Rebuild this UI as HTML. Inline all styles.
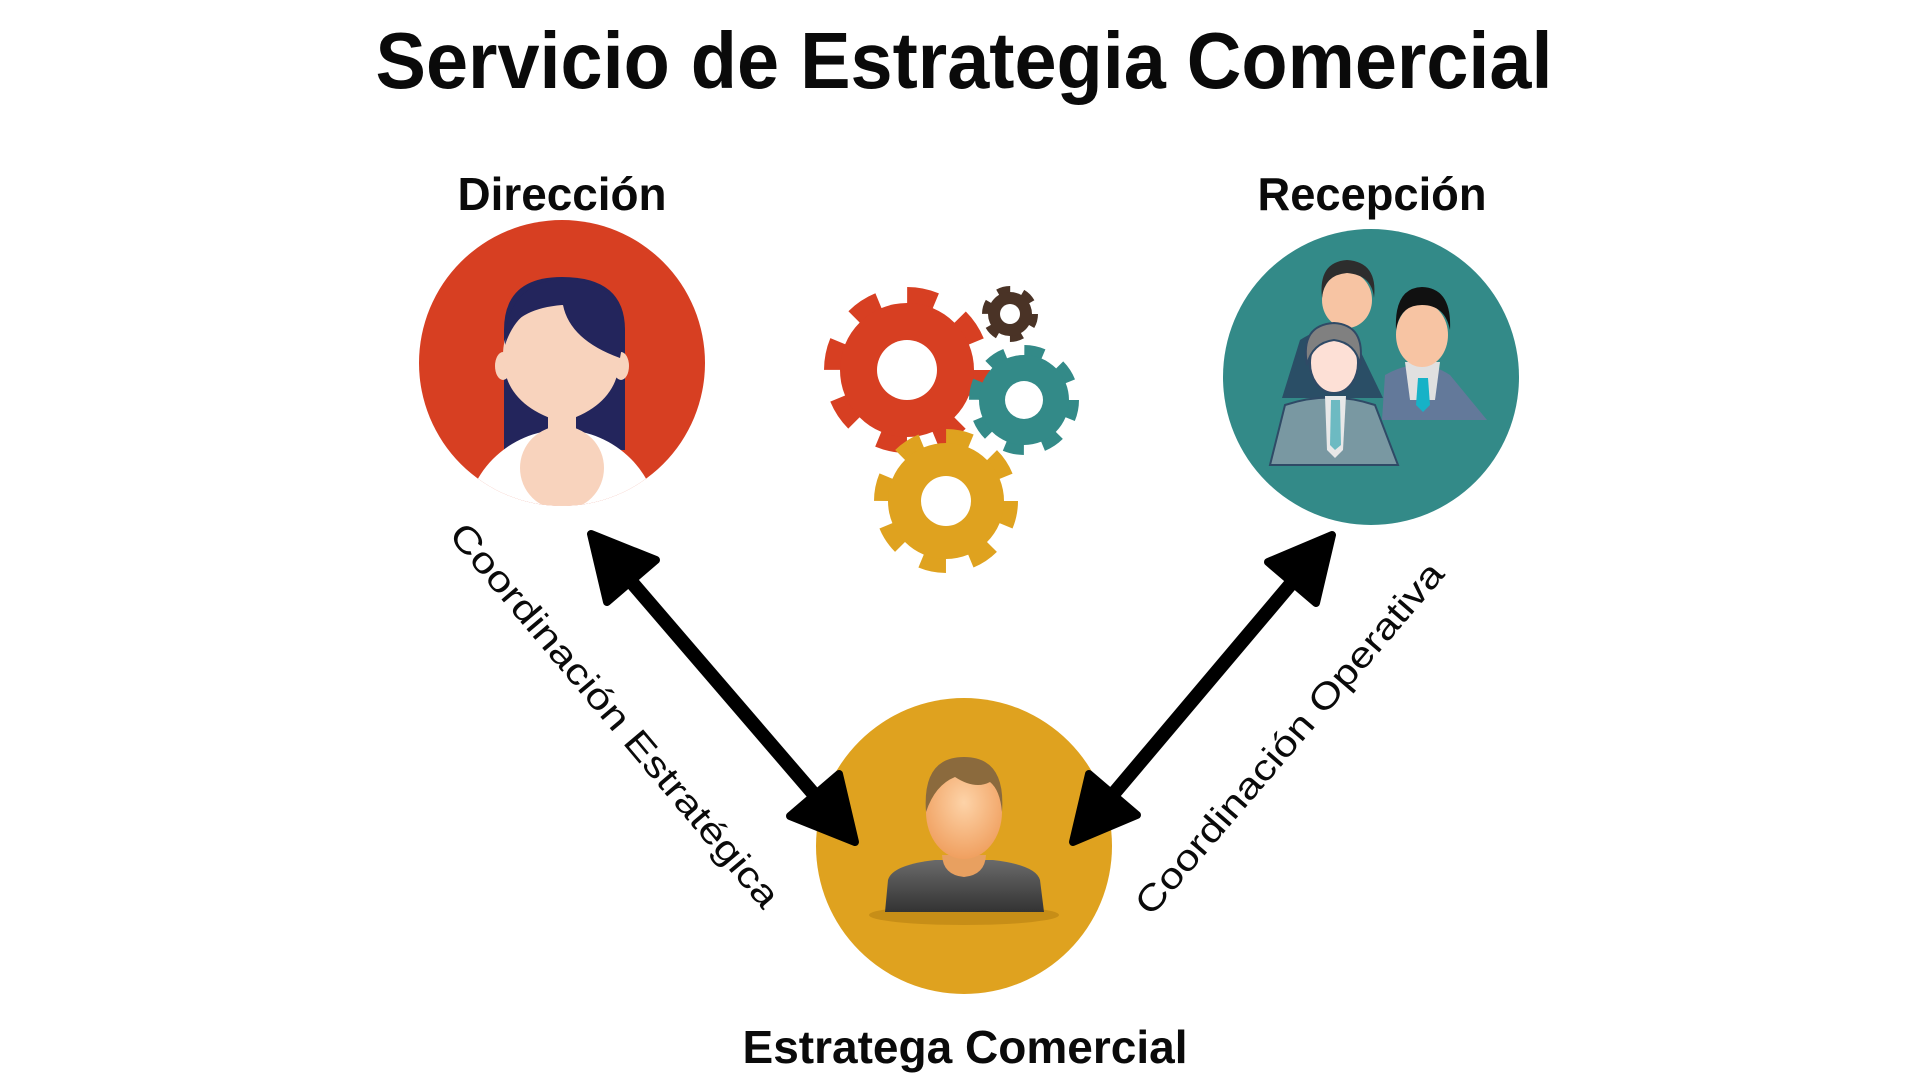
<!DOCTYPE html>
<html><head><meta charset="utf-8"><style>
html,body{margin:0;padding:0;background:#fff;}
svg{display:block;}
</style></head><body>
<svg width="1920" height="1080" viewBox="0 0 1920 1080" xmlns="http://www.w3.org/2000/svg">
<rect width="1920" height="1080" fill="#fff"/>
<g font-family="Liberation Sans, sans-serif" font-weight="bold" fill="#0a0a0a">
<text x="964" y="88" font-size="80" text-anchor="middle" textLength="1177" lengthAdjust="spacingAndGlyphs">Servicio de Estrategia Comercial</text>
<text x="562" y="210" font-size="46" text-anchor="middle" textLength="209" lengthAdjust="spacingAndGlyphs">Dirección</text>
<text x="1372" y="210" font-size="46" text-anchor="middle" textLength="229" lengthAdjust="spacingAndGlyphs">Recepción</text>
<text x="965" y="1063" font-size="46" text-anchor="middle" textLength="445" lengthAdjust="spacingAndGlyphs">Estratega Comercial</text>
</g>

<!-- Direccion -->
<defs>
<clipPath id="cr"><circle cx="562" cy="363" r="143"/></clipPath>
<clipPath id="cg"><circle cx="964" cy="846" r="148"/></clipPath>
<radialGradient id="face" cx="0.5" cy="0.4" r="0.6"><stop offset="0" stop-color="#fdd3a8"/><stop offset="1" stop-color="#f0a060"/></radialGradient>
<linearGradient id="shirt" x1="0" y1="0" x2="0" y2="1"><stop offset="0" stop-color="#6a6a6a"/><stop offset="1" stop-color="#333"/></linearGradient>
</defs>
<circle cx="562" cy="363" r="143" fill="#d73f22"/>
<g clip-path="url(#cr)">
<path d="M504 330 Q504 277 562 277 Q625 277 625 330 L625 450 L504 450 Z" fill="#23255c"/>
<ellipse cx="562" cy="530" rx="98" ry="100" fill="#fff"/>
<ellipse cx="562" cy="468" rx="42" ry="42" fill="#f8d3bd"/>
<rect x="548" y="405" width="28" height="30" fill="#f8d3bd"/>
<ellipse cx="503" cy="366" rx="8" ry="14" fill="#f8d3bd"/>
<ellipse cx="621" cy="366" rx="8" ry="14" fill="#f8d3bd"/>
<path d="M503 355 Q503 310 562 305 Q620 310 620 355 Q620 405 562 422 Q503 405 503 355 Z" fill="#f8d3bd"/>
<path d="M505 345 Q520 300 563 305 Q570 340 620 358 L625 330 Q620 280 562 278 Q505 285 505 345 Z" fill="#23255c"/>
</g>

<!-- Recepcion -->
<circle cx="1371" cy="377" r="148" fill="#338a88"/>
<path d="M1282 398 L1300 340 Q1330 320 1355 340 L1383 398 Z" fill="#2a4e66"/>
<ellipse cx="1347" cy="300" rx="25" ry="28" fill="#f7c4a3"/>
<path d="M1322 298 Q1318 262 1347 260 Q1378 262 1374 298 Q1372 275 1347 273 Q1324 275 1322 298Z" fill="#2d2d2d"/>
<path d="M1382 420 L1385 375 Q1420 355 1450 375 L1487 420 Z" fill="#63799a"/>
<path d="M1405 362 L1440 362 L1435 400 L1410 400Z" fill="#e0e0e0"/>
<path d="M1418 378 L1428 378 L1430 405 L1423 412 L1416 405Z" fill="#16b2c7"/>
<ellipse cx="1422" cy="335" rx="26" ry="32" fill="#f7c4a3"/>
<path d="M1396 330 Q1394 288 1422 287 Q1452 288 1450 330 Q1445 305 1422 305 Q1400 305 1396 330Z" fill="#111"/>
<path d="M1270 465 L1285 405 Q1330 390 1375 405 L1398 465 Z" fill="#7998a2" stroke="#2f4a66" stroke-width="2"/>
<path d="M1325 396 L1346 396 L1343 450 L1335 458 L1327 450Z" fill="#e8e8e8"/>
<path d="M1331 400 L1340 400 L1341 445 L1335 450 L1330 445Z" fill="#6dbac2"/>
<ellipse cx="1334" cy="363" rx="24" ry="30" fill="#fde0d6" stroke="#2f4a66" stroke-width="2"/>
<path d="M1307 365 Q1300 325 1334 323 Q1366 325 1360 365 Q1356 343 1334 340 Q1312 343 1307 365Z" fill="#808080" stroke="#2f4a66" stroke-width="2"/>

<!-- Estratega -->
<circle cx="964" cy="846" r="148" fill="#dfa21f"/>
<ellipse cx="964" cy="915" rx="95" ry="10" fill="#b07a10" opacity="0.5"/>
<path d="M885 912 L888 880 Q892 865 935 860 L993 860 Q1036 865 1040 880 L1044 912 Z" fill="url(#shirt)"/>
<path d="M942 855 L986 855 Q985 875 964 877 Q943 875 942 855Z" fill="#e8a060"/>
<ellipse cx="964" cy="812" rx="38" ry="47" fill="url(#face)"/>
<path d="M926 812 Q922 757 964 757 Q1006 757 1002 812 Q1000 790 990 782 Q975 790 955 777 Q935 785 926 812Z" fill="#8b6a3d"/>

<!-- Gears -->
<g>
<circle cx="907" cy="370" r="74" fill="none" stroke="#d73f22" stroke-width="18" stroke-dasharray="29.06 29.06"/>
<circle cx="907" cy="370" r="67" fill="#d73f22"/>
<circle cx="907" cy="370" r="30" fill="#fff"/>
<circle cx="1010" cy="314" r="24.5" fill="none" stroke="#4a3326" stroke-width="7" stroke-dasharray="12.83 12.83"/>
<circle cx="1010" cy="314" r="22" fill="#4a3326"/>
<circle cx="1010" cy="314" r="10" fill="#fff"/>
<circle cx="1024" cy="400" r="49" fill="none" stroke="#338a88" stroke-width="12" stroke-dasharray="19.24 19.24"/>
<circle cx="1024" cy="400" r="45" fill="#338a88"/>
<circle cx="1024" cy="400" r="19" fill="#fff"/>
<circle cx="946" cy="501" r="64" fill="none" stroke="#dfa21f" stroke-width="16" stroke-dasharray="25.13 25.13"/>
<circle cx="946" cy="501" r="58" fill="#dfa21f"/>
<circle cx="946" cy="501" r="25" fill="#fff"/>
</g>

<!-- Arrows -->
<g fill="#000" stroke="#000" stroke-linejoin="round">
<line x1="628" y1="578" x2="818" y2="799" stroke-width="14"/>
<polygon points="591,534 607,602 656,560" stroke-width="8"/>
<polygon points="855,842 790,816 839,774" stroke-width="8"/>
<line x1="1295" y1="579" x2="1110" y2="798" stroke-width="14"/>
<polygon points="1332,535 1316,603 1268,562" stroke-width="8"/>
<polygon points="1073,842 1137,815 1089,774" stroke-width="8"/>
</g>

<g font-family="Liberation Sans, sans-serif" font-size="36" fill="#0a0a0a">
<text x="0" y="0" transform="translate(615,715) rotate(49.9)" text-anchor="middle" dominant-baseline="central" textLength="490" lengthAdjust="spacingAndGlyphs">Coordinación Estratégica</text>
<text x="0" y="0" transform="translate(1289,738) rotate(-49.3)" text-anchor="middle" dominant-baseline="central" textLength="452" lengthAdjust="spacingAndGlyphs">Coordinación Operativa</text>
</g>
</svg>
</body></html>
